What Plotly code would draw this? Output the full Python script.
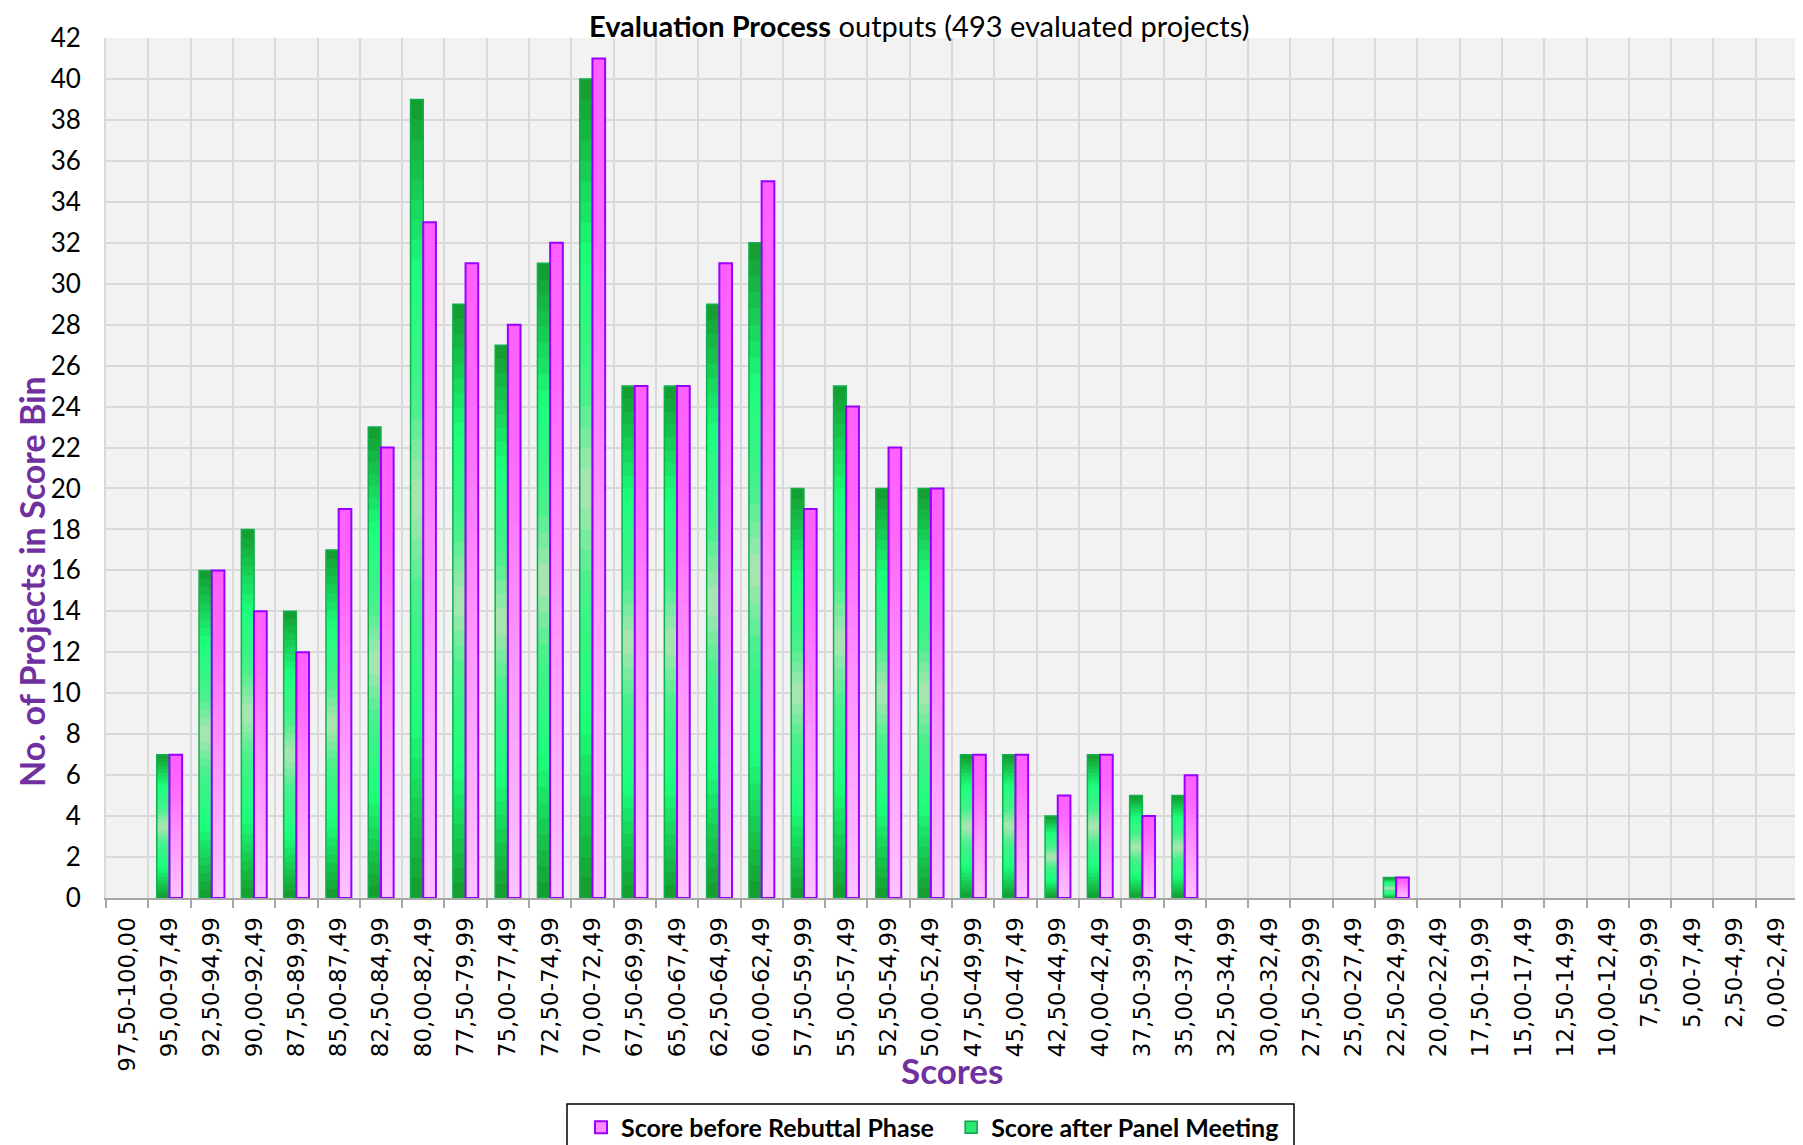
import plotly.graph_objects as go

categories = ["97,50-100,00", "95,00-97,49", "92,50-94,99", "90,00-92,49", "87,50-89,99",
              "85,00-87,49", "82,50-84,99", "80,00-82,49", "77,50-79,99", "75,00-77,49",
              "72,50-74,99", "70,00-72,49", "67,50-69,99", "65,00-67,49", "62,50-64,99",
              "60,00-62,49", "57,50-59,99", "55,00-57,49", "52,50-54,99", "50,00-52,49",
              "47,50-49,99", "45,00-47,49", "42,50-44,99", "40,00-42,49", "37,50-39,99",
              "35,00-37,49", "32,50-34,99", "30,00-32,49", "27,50-29,99", "25,00-27,49",
              "22,50-24,99", "20,00-22,49", "17,50-19,99", "15,00-17,49", "12,50-14,99",
              "10,00-12,49", "7,50-9,99", "5,00-7,49", "2,50-4,99", "0,00-2,49"]

after_panel = [0, 7, 16, 18, 14, 17, 23, 39, 29, 27, 31, 40, 25, 25, 29, 32, 20, 25, 20, 20,
               7, 7, 4, 7, 5, 5, 0, 0, 0, 0, 1, 0, 0, 0, 0, 0, 0, 0, 0, 0]
before_rebuttal = [0, 7, 16, 14, 12, 19, 22, 33, 31, 28, 32, 41, 25, 25, 31, 35, 19, 24, 22, 20,
                   7, 7, 5, 7, 4, 6, 0, 0, 0, 0, 1, 0, 0, 0, 0, 0, 0, 0, 0, 0]

y_ticks = list(range(0, 43, 2))

name_before = "Score before Rebuttal Phase"
name_after = "Score after Panel Meeting"

GREEN_STOPS = [(0.0, (19, 153, 43)), (0.22, (29, 255, 124)), (0.38, (70, 240, 140)),
               (0.5, (176, 228, 180)), (0.62, (70, 240, 140)), (0.78, (29, 255, 124)),
               (1.0, (19, 153, 43))]
PINK_STOPS = [(0.0, (255, 194, 255)), (0.5, (255, 140, 255)), (0.8, (255, 102, 255)),
              (1.0, (255, 96, 255))]


def grad(stops, t):
    for (t0, c0), (t1, c1) in zip(stops[:-1], stops[1:]):
        if t0 <= t <= t1:
            f = (t - t0) / (t1 - t0) if t1 > t0 else 0
            c = [round(a + (b - a) * f) for a, b in zip(c0, c1)]
            return "rgb(%d,%d,%d)" % tuple(c)
    return "rgb(%d,%d,%d)" % stops[-1][1]


BAR_W = 0.3
N = 40
fig = go.Figure()


def nz(values):
    return [v if v else None for v in values]


def add_series(values, stops, offset):
    for k in range(N):
        bases = [v * k / N for v in values]
        tops = [min(v * (k + 1.6) / N, v) for v in values]
        fig.add_trace(go.Bar(
            x=categories, y=nz([t - b for t, b in zip(tops, bases)]), base=bases,
            offset=offset, width=BAR_W, showlegend=False, hoverinfo="skip",
            marker=dict(color=grad(stops, (k + 0.5) / N), line=dict(width=0)),
        ))


add_series(after_panel, GREEN_STOPS, -BAR_W)
add_series(before_rebuttal, PINK_STOPS, 0.0)

# outlines
fig.add_trace(go.Bar(x=categories, y=nz(after_panel), offset=-BAR_W, width=BAR_W, showlegend=False,
                     name=name_after,
                     marker=dict(color="rgba(0,0,0,0)", line=dict(color="#10b050", width=1.5))))
fig.add_trace(go.Bar(x=categories, y=nz(before_rebuttal), offset=0.0, width=BAR_W, showlegend=False,
                     name=name_before,
                     marker=dict(color="rgba(0,0,0,0)", line=dict(color="#9900ff", width=2))))

NB = "\u00a0"
# legend entries
fig.add_trace(go.Bar(x=[categories[0]], y=[None], name=name_before + NB * 2, legendrank=1,
                     marker=dict(color="#ff8cff", line=dict(color="#9900ff", width=2))))
fig.add_trace(go.Bar(x=[categories[0]], y=[None], name=name_after, legendrank=2,
                     marker=dict(color="#2be872", line=dict(color="#10a048", width=1.5))))

# legend frame (extends past the bottom edge like the original)
fig.add_shape(type="rect", xref="paper", yref="paper",
              x0=(567 - 106) / 1692, x1=(1294 - 106) / 1692,
              y0=(898 - 1104) / 860, y1=(898 - 1170) / 860,
              line=dict(color="black", width=1.5), fillcolor="white", layer="below")

PURPLE = "#7030a0"
fig.update_layout(
    width=1803, height=1145,
    barmode="overlay",
    paper_bgcolor="white", plot_bgcolor="#f2f2f2",
    margin=dict(l=98, r=13, t=30, b=255, autoexpand=False),
    font=dict(family="Lato", color="black"),
    showlegend=True,
    legend=dict(orientation="h", x=(581 - 106) / 1692, xanchor="left", y=-0.24, yanchor="top",
                borderwidth=0, bgcolor="rgba(0,0,0,0)",
                font=dict(family="Lato", size=25, color="black", weight="bold"),
                itemwidth=30, traceorder="normal"),
    xaxis=dict(type="category", categoryorder="array", categoryarray=categories,
               tickson="boundaries", showgrid=True, gridcolor="#d9d9d9", gridwidth=2,
               ticks="outside", ticklen=8, tickwidth=2, tickcolor="#a6a6a6",
               showline=True, linecolor="#a6a6a6", linewidth=2, automargin=False,
               tickangle=-90, ticklabelstandoff=8,
               tickfont=dict(family="DejaVu Sans", size=23, color="black"),
               range=[-0.5, len(categories) - 0.5]),
    yaxis=dict(range=[0, 42], tickvals=y_ticks, showgrid=True, gridcolor="#d9d9d9", gridwidth=2,
               zeroline=False, showline=True, linecolor="#d9d9d9", linewidth=2, mirror=True,
               ticks="", ticklabelstandoff=18, automargin=False,
               tickfont=dict(family="Lato", size=26, color="black")),
    annotations=[
        dict(text="<b>Evaluation Process</b> outputs (493 evaluated projects)",
             xref="paper", yref="paper", x=0.4805, y=(898 - 25) / 860, xanchor="center",
             yanchor="middle", showarrow=False,
             font=dict(family="Lato", size=29, color="black")),
        dict(text="<b>No. of Projects in Score Bin</b>", xref="paper", yref="paper",
             x=(31 - 106) / 1692, y=(898 - 582) / 860, xanchor="center", yanchor="middle",
             textangle=-90, showarrow=False,
             font=dict(family="Lato", size=34, color=PURPLE)),
        dict(text="<b>Scores</b>", xref="paper", yref="paper", x=0.4999, y=-0.2,
             xanchor="center", yanchor="middle", showarrow=False,
             font=dict(family="Lato", size=35, color=PURPLE)),
    ],
)

fig.write_html("out.html")
